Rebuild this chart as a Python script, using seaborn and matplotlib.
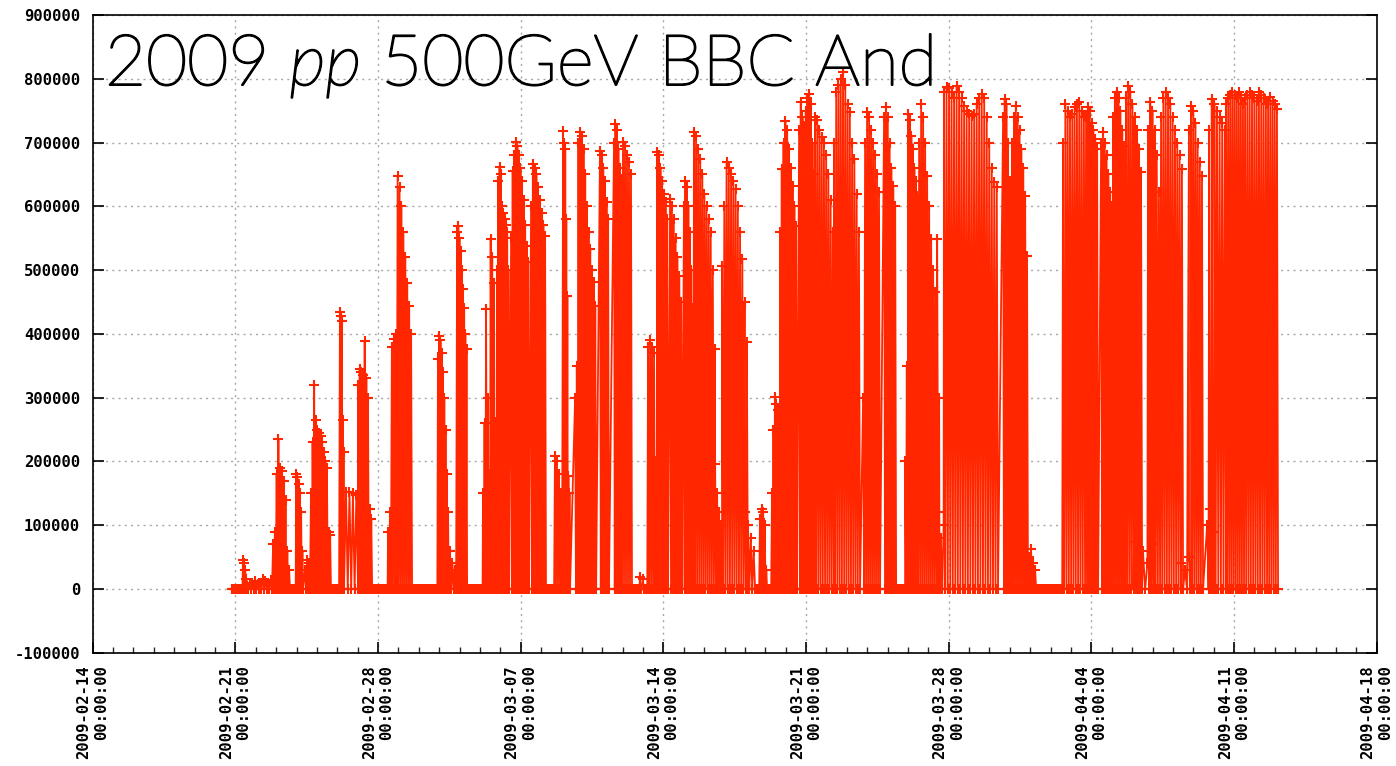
import numpy as np
import pandas as pd
import matplotlib
matplotlib.use("Agg")
import matplotlib.pyplot as plt
import matplotlib.dates as mdates
import matplotlib.patheffects as pe
from matplotlib.ticker import FixedLocator, FuncFormatter
from matplotlib.font_manager import FontProperties
import seaborn as sns

# ---------------------------------------------------------------------------
# BBC AND coincidence rate, RHIC run 2009, pp at 500 GeV.
# Each store: start/end (days after 2009-02-14 00:00) and the rate readings
# (thousands of Hz) over the store. Readings alternate with the zero-rate
# dropouts that the BBC scaler records between them.
# ---------------------------------------------------------------------------
RUN_ORIGIN = "2009-02-14"

fill_start = [7.37, 7.57, 8.85, 9.98, 10.42, 10.71, 12.13, 12.43, 13.02, 14.49,
              16.94, 17.53, 17.88, 19.15, 19.84, 20.53, 21.51, 22.68, 23.08, 23.67,
              24.89, 25.58, 26.02, 26.86, 27.25, 27.69, 28.33, 29.01, 29.50, 30.54,
              30.88, 32.01, 32.74, 33.33, 33.72, 34.66, 35.44, 36.37, 37.80, 38.83,
              39.87, 40.55, 41.48, 41.77, 44.67, 45.11, 45.94, 47.61, 48.74, 49.48,
              50.06, 50.70, 51.09, 51.78, 52.42, 53.40, 53.79, 54.68, 54.78, 55.61,
              56.54, 57.67]
fill_end = [7.57, 8.80, 9.68, 10.32, 10.76, 11.69, 12.33, 13.02, 13.71, 15.67,
            17.53, 17.83, 18.37, 19.79, 20.43, 21.41, 22.24, 23.03, 23.42, 24.70,
            25.33, 25.97, 26.46, 27.05, 27.69, 28.23, 28.92, 29.55, 30.58, 30.88,
            32.15, 32.50, 33.09, 33.72, 34.56, 35.44, 36.37, 37.65, 38.63, 39.42,
            40.50, 41.58, 41.82, 44.42, 45.11, 45.89, 46.29, 48.69, 49.33, 50.06,
            50.75, 51.49, 52.08, 52.37, 53.50, 53.89, 54.48, 55.02, 55.61, 56.49,
            57.62, 58.16]
fill_rate_k = [
    [45, 40, 30, 15],
    [5, 8, 10, 12, 8, 10, 15, 12, 10, 14],
    [70, 90, 180, 235, 190, 185, 170, 140, 60, 30],
    [180, 175, 165, 150, 120, 60],
    [30, 45, 40, 35],
    [150, 230, 320, 265, 250, 245, 240, 230, 215, 200, 190, 90, 85],
    [434, 428, 420, 265, 215],
    [152, 152, 150, 148],
    [320, 345, 340, 335, 389, 330, 300, 125, 110],
    [90, 120, 380, 392, 400, 648, 630, 600, 560, 520, 480, 444, 400],
    [360, 397, 390, 370, 340, 300, 250, 180, 120, 60],
    [60, 40, 30],
    [560, 569, 550, 530, 500, 470, 440, 400, 376],
    [150, 260, 439, 300, 180, 549, 520, 480, 262],
    [500, 640, 662, 650, 600, 590, 580, 570, 560, 500],
    [550, 655, 680, 701, 695, 680, 660, 640, 610, 570, 538, 513],
    [600, 666, 660, 650, 630, 610, 590, 570, 554],
    [209, 200, 180, 150],
    [718, 700, 690, 580, 460, 177, 150],
    [300, 350, 700, 717, 710, 690, 650, 600, 560, 533, 500, 481, 444],
    [687, 680, 660, 640, 607, 580],
    [700, 729, 720, 690, 660, 643],
    [701, 695, 680, 670, 650],
    [19, 15],
    [380, 390, 380, 370, 200],
    [685, 680, 660, 640, 620, 607, 580],
    [612, 600, 580, 550, 520, 490, 450],
    [600, 640, 630, 600, 560, 500, 440, 376],
    [717, 710, 690, 674, 650, 620, 600, 580, 560, 500, 376],
    [196, 150, 120, 100],
    [506, 600, 670, 660, 650, 640, 627, 600, 560, 517, 450, 387],
    [120, 100, 80, 60],
    [110, 125, 120, 100, 30],
    [150, 250, 301, 290, 280, 200],
    [560, 658, 700, 734, 720, 690, 660, 632, 600, 569],
    [720, 763, 740, 726, 750, 770, 776, 760, 700, 650],
    [740, 735, 720, 709, 700, 680, 650, 610, 560],
    [700, 779, 790, 800, 810, 790, 760, 748, 700, 674, 620, 560],
    [300, 700, 748, 740, 720, 700, 680, 650, 622],
    [740, 756, 740, 700, 660, 632, 600],
    [200, 350, 745, 735, 710, 690, 660, 640, 616],
    [700, 760, 740, 700, 648, 600, 549, 500, 465, 549, 300],
    [120, 80, 100],
    [780, 787, 785, 780, 770, 789, 780, 770, 757, 750, 745, 742, 745, 760,
     770, 776, 770, 740, 700, 660, 638, 630],
    [740, 768, 760, 700, 640, 575],
    [700, 740, 757, 740, 720, 690, 660, 616, 522],
    [50, 63, 40, 30],
    [700, 760, 750, 740, 745, 755, 760, 763, 750, 740],
    [740, 756, 750, 730, 720, 706, 690],
    [700, 717, 700, 680, 650, 622, 600],
    [740, 770, 779, 770, 750, 720, 695, 660],
    [770, 789, 780, 760, 740, 720, 690, 654],
    [73, 50, 60, 40, 70],
    [720, 763, 750, 720, 680, 622],
    [740, 770, 779, 770, 760, 740, 720, 700, 680, 658],
    [40, 30, 50],
    [720, 757, 750, 730, 700, 670, 648],
    [100, 125, 90],
    [720, 768, 760, 750, 740, 730, 720],
    [760, 770, 775, 779, 775, 770, 779, 770, 760],
    [770, 775, 779, 775, 770, 765, 779, 775, 770, 760],
    [760, 771, 765, 760, 753],
]

# periods with no beam (rate sits at zero)
idle_start = [6.83, 9.68, 11.69, 13.71, 15.67, 18.37, 22.24, 26.46, 27.05, 32.50,
              33.09, 39.42, 46.29]
idle_end = [7.37, 9.98, 12.13, 14.49, 16.94, 19.15, 22.68, 26.86, 27.25, 32.74,
            33.33, 39.87, 47.61]
IDLE_STEP_DAYS = 0.04

TITLE_PARTS = ("2009 ", "pp", " 500GeV BBC And")

# ---------------------------------------------------------------------------
# assemble the time series
# ---------------------------------------------------------------------------
t_days, rate = [], []
for s, e, r in zip(fill_start, fill_end, fill_rate_k):
    r = np.asarray(r, dtype=float) * 1000.0
    t = np.linspace(s, e, 2 * len(r))
    v = np.zeros(2 * len(r))
    v[0::2] = r              # readings
    t_days.extend(t)
    rate.extend(v)           # dropouts stay at zero
for s, e in zip(idle_start, idle_end):
    t = np.arange(s, e + 1e-9, IDLE_STEP_DAYS)
    t_days.extend(t)
    rate.extend(np.zeros(len(t)))

origin = pd.Timestamp(RUN_ORIGIN)
df = pd.DataFrame({
    "time": origin + pd.to_timedelta(np.asarray(t_days), unit="D"),
    "rate": rate,
}).sort_values("time", kind="mergesort").reset_index(drop=True)

# ---------------------------------------------------------------------------
# figure
# ---------------------------------------------------------------------------
sns.set_theme(style="white")
plt.rcParams["font.family"] = ["DejaVu Sans"]
plt.rcParams["mathtext.fontset"] = "custom"
plt.rcParams["mathtext.it"] = "Lato:italic:light"
plt.rcParams["mathtext.rm"] = "Lato:light"

fig = plt.figure(figsize=(13.96, 7.66), dpi=100)
ax = fig.add_axes([92.7 / 1396, 1 - 652.7 / 766, (1376.7 - 92.7) / 1396, (652.7 - 15) / 766])

RED = "#ff2600"
sns.lineplot(data=df, x="time", y="rate", ax=ax, estimator=None, sort=False,
             color=RED, linewidth=1.3, marker="+", markersize=6.5,
             markeredgewidth=1.5, markeredgecolor=RED, legend=False)

ax.set_xlim(origin, pd.Timestamp("2009-04-18"))
ax.set_ylim(-100000, 900000)

week_ticks = pd.date_range(RUN_ORIGIN, "2009-04-18", freq="7D")
ax.xaxis.set_major_locator(FixedLocator(mdates.date2num(week_ticks)))
ax.xaxis.set_minor_locator(mdates.DayLocator())
ax.xaxis.set_major_formatter(mdates.DateFormatter("%Y-%m-%d\n%H:%M:%S"))
ax.yaxis.set_major_locator(FixedLocator(np.arange(-100000, 900001, 100000)))
ax.yaxis.set_major_formatter(FuncFormatter(lambda v, p: f"{int(round(v))}"))

ax.set_xlabel("")
ax.set_ylabel("")

tick_font = FontProperties(family="DejaVu Sans Mono", weight="bold", size=11.2)
for lab in ax.get_yticklabels():
    lab.set_fontproperties(tick_font)
for lab in ax.get_xticklabels():
    lab.set_fontproperties(tick_font)
    lab.set_rotation(90)
    lab.set_ha("center")
    lab.set_va("top")
    lab.set_multialignment("right")

ax.tick_params(axis="y", which="major", direction="in", length=8, width=1.2,
               left=True, right=True, pad=9, colors="black")
ax.tick_params(axis="x", which="major", direction="in", length=8, width=1.2,
               bottom=True, top=False, pad=9, colors="black")
ax.tick_params(axis="x", which="minor", direction="in", length=4, width=1.0,
               bottom=True, top=False)

ax.grid(True, which="major", axis="both", color="#a8a8a8",
        linestyle=(0, (1.5, 3)), linewidth=1.0)
ax.set_axisbelow(True)
for sp in ax.spines.values():
    sp.set_color("black")
    sp.set_linewidth(1.2)

title = fig.text(105 / 1396, 1 - 85 / 766,
                 TITLE_PARTS[0] + r"$" + TITLE_PARTS[1] + r"$" + TITLE_PARTS[2],
                 fontsize=51, family="Lato", fontweight="light", color="black",
                 va="baseline", ha="left")
title.set_path_effects([pe.withStroke(linewidth=1.4, foreground="black")])

fig.savefig("out.png", dpi=100, facecolor="white")
